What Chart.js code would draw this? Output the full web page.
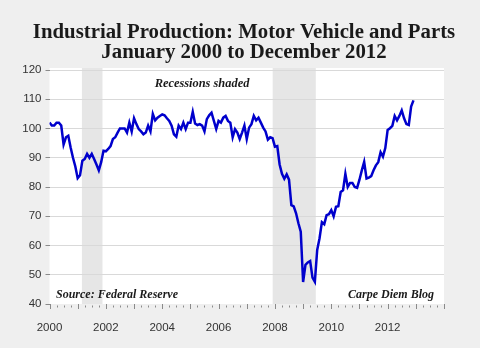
<!DOCTYPE html>
<html>
<head>
<meta charset="utf-8">
<script src="https://cdn.jsdelivr.net/npm/chart.js@4.4.1/dist/chart.umd.min.js"></script>
<style>
  html, body { margin: 0; padding: 0; background: #efefef; }
  #wrap { width: 480px; height: 348px; }
</style>
</head>
<body>
<div id="wrap"><canvas id="chart" width="480" height="348"></canvas></div>
<script>
  // Industrial production index, motor vehicles and parts, monthly from Jan 2000
  const startYear = 2000;
  const production = [
    102, 101, 101, 102, 102, 101, 94.5, 97, 97.5, 93.5, 90, 87,             // 2000
    83, 84, 89, 89.6, 91.3, 90, 91.3, 89.6, 87.7, 85.7, 88.5, 92.4,         // 2001
    92.2, 93, 94, 96.4, 97, 98.6, 100, 100, 100, 98.6, 102, 99,             // 2002
    103.5, 101.5, 99.8, 99, 98, 98.6, 101, 99, 105, 102.8, 103.7, 104.3,    // 2003
    104.8, 104.5, 103.5, 102.6, 101, 98, 97.2, 101, 99.8, 102, 99.8, 102,   // 2004
    102, 105.7, 101.7, 101.2, 101.5, 101, 99, 103.2, 104.5, 105.4, 102.6, 99.8, // 2005
    102.6, 102, 103.7, 104.3, 102.6, 102, 97, 99.8, 98.6, 96.4, 98.6, 101,  // 2006
    96.4, 100.3, 101.5, 104.3, 102.8, 103.7, 102, 100.3, 99, 96.2, 97, 96.7, // 2007
    93.8, 94, 87.7, 84.5, 82.8, 84.3, 82.5, 73.8, 73.4, 71, 67.6, 64.7,     // 2008
    47.5, 53.4, 54.2, 54.7, 49, 47.6, 58.5, 62.5, 68, 67.3, 70.4, 70.7,     // 2009
    72.1, 70, 73.2, 73.4, 78.3, 78.9, 84.5, 80, 81.4, 81.4, 80, 79.7,       // 2010
    82.5, 85.7, 88.6, 82.9, 83.2, 83.7, 85.7, 87.4, 88.5, 91.9, 90.4, 93.3, // 2011
    99.5, 100.1, 100.9, 104.3, 102.8, 104.3, 106.2, 103.5, 101.5, 101.2, 107.5, 109.6 // 2012
  ];
  const recessions = [[2001.15, 2001.88], [2007.92, 2009.45]];
  const yTicks = [40, 50, 60, 70, 80, 90, 100, 110, 120];
  const xLabelYears = [2000, 2002, 2004, 2006, 2008, 2010, 2012];

  const serif = '"Liberation Serif", "DejaVu Serif", serif';
  const sans = '"Liberation Sans", Arial, sans-serif';

  const backdrop = {
    id: "backdrop",
    beforeDraw(chart) {
      const { ctx, chartArea: a, scales: { x } } = chart;
      ctx.save();
      ctx.fillStyle = "#ffffff";
      ctx.fillRect(a.left, a.top - 2, a.right - a.left, a.bottom - a.top + 2);
      ctx.fillStyle = "#e6e6e6";
      recessions.forEach(([s, e]) => {
        const x0 = x.getPixelForValue(s);
        const x1 = x.getPixelForValue(e);
        ctx.fillRect(x0, a.top - 2, x1 - x0, a.bottom - a.top + 2);
      });
      ctx.restore();
    }
  };

  const quarterTicks = {
    id: "quarterTicks",
    afterDraw(chart) {
      const { ctx, chartArea: a, scales: { x } } = chart;
      ctx.save();
      ctx.strokeStyle = "#8a8a8a";
      ctx.lineWidth = 1;
      for (let q = 0; q <= (x.max - x.min) * 4; q++) {
        const px = Math.round(x.getPixelForValue(x.min + q / 4)) + 0.5;
        const major = q % 4 === 0;
        ctx.beginPath();
        ctx.moveTo(px, a.bottom + (major ? 0 : 1.5));
        ctx.lineTo(px, a.bottom + (major ? 5 : 3.5));
        ctx.stroke();
      }
      ctx.restore();
    }
  };

  const labels = {
    id: "labels",
    afterDraw(chart) {
      const { ctx } = chart;
      ctx.save();
      ctx.fillStyle = "#1a1a1a";
      ctx.textAlign = "center";
      ctx.textBaseline = "middle";
      ctx.font = "bold 20.8px " + serif;
      ctx.fillText("Industrial Production: Motor Vehicle and Parts", 244, 33);
      ctx.fillText("January 2000 to December 2012", 244, 53);

      ctx.font = "italic bold 12.4px " + serif;
      ctx.fillText("Recessions shaded", 202, 84);
      ctx.font = "italic bold 12px " + serif;
      ctx.textAlign = "left";
      ctx.fillText("Source: Federal Reserve", 56, 295);
      ctx.textAlign = "right";
      ctx.fillText("Carpe Diem Blog", 434, 295);
      ctx.restore();
    }
  };

  new Chart(document.getElementById("chart"), {
    type: "line",
    data: {
      datasets: [{
        data: production.map((v, i) => ({ x: startYear + i / 12, y: v })),
        borderColor: "#0000cc",
        borderWidth: 2.5,
        pointRadius: 0,
        tension: 0,
        fill: false
      }]
    },
    options: {
      responsive: false,
      animation: false,
      devicePixelRatio: 1,
      layout: { padding: { top: 70, right: 36, left: 0, bottom: 0 } },
      plugins: { legend: { display: false }, tooltip: { enabled: false } },
      scales: {
        x: {
          type: "linear",
          min: 2000,
          max: 2014,
          afterFit: (s) => { s.height = 44; },
          afterBuildTicks: (s) => { s.ticks = xLabelYears.map((v) => ({ value: v })); },
          ticks: {
            autoSkip: false,
            maxRotation: 0,
            padding: 9,
            color: "#333333",
            font: { family: sans, size: 11.5 },
            callback: (v) => String(v)
          },
          grid: { display: false },
          border: { display: false }
        },
        y: {
          min: 40,
          max: 120,
          afterFit: (s) => { s.width = 49.5; },
          afterBuildTicks: (s) => { s.ticks = yTicks.map((v) => ({ value: v })); },
          ticks: {
            padding: 4,
            color: "#333333",
            font: { family: sans, size: 11.5 }
          },
          grid: {
            color: (c) => (c.tick && c.tick.value === 40 ? "rgba(0,0,0,0)" : "#d9d9d9"),
            tickColor: "#8a8a8a",
            tickLength: 4
          },
          border: { display: false }
        }
      }
    },
    plugins: [backdrop, quarterTicks, labels]
  });
</script>
</body>
</html>
